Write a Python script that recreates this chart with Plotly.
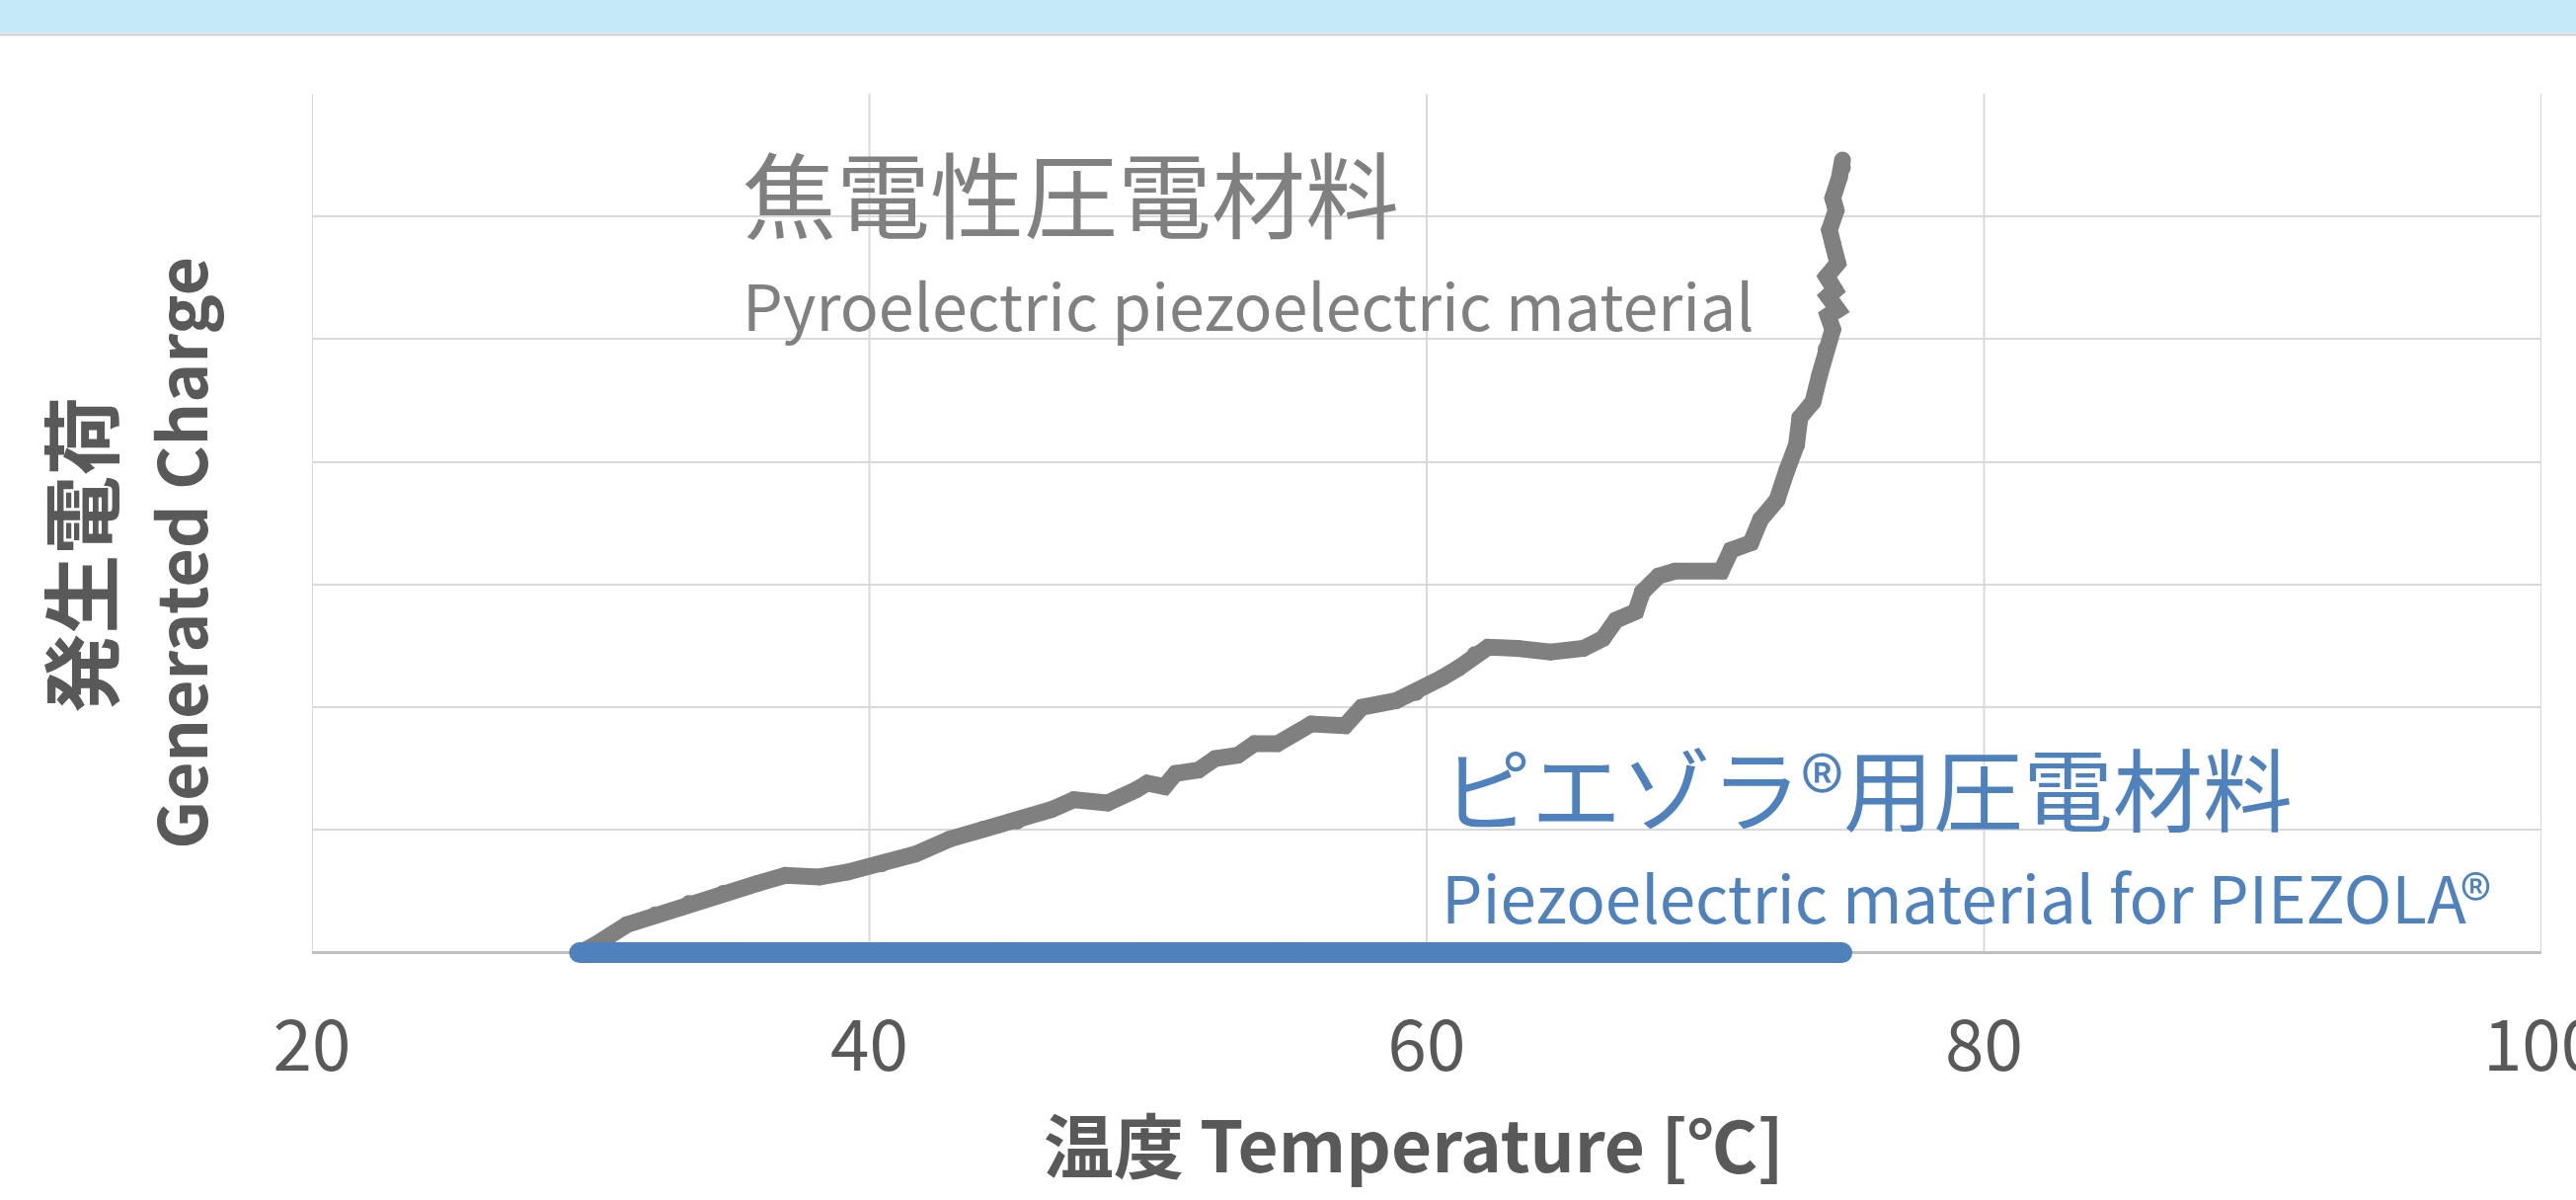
import plotly.graph_objects as go

# ---- data ----
temp_pyro = [29.6, 30.09, 31.30, 32.32, 33.53, 34.76, 35.97, 36.99, 38.21, 39.22,
             40.44, 41.66, 42.87, 44.09, 45.30, 46.53, 47.34, 48.55, 49.57, 49.97,
             50.59, 50.99, 51.81, 52.41, 53.22, 53.82, 54.64, 55.86, 57.07, 57.67,
             58.91, 59.61, 60.55, 61.14, 61.73, 62.20, 63.26, 64.44, 65.62, 66.32,
             66.79, 67.50, 67.74, 68.32, 68.91, 70.57, 70.92, 71.63, 71.98, 72.57,
             72.92, 73.27, 73.39, 73.86, 74.10, 74.33, 74.57, 74.40, 74.75, 74.40,
             74.65, 74.35, 74.75, 74.57, 74.45, 74.69, 74.57, 74.81, 74.92, 74.92]
charge_pyro = [0.0, 0.054, 0.228, 0.308, 0.402, 0.483, 0.563, 0.630, 0.617, 0.657,
               0.724, 0.804, 0.925, 1.006, 1.072, 1.166, 1.247, 1.220, 1.327, 1.381,
               1.354, 1.461, 1.488, 1.582, 1.609, 1.703, 1.703, 1.864, 1.850, 2.0,
               2.054, 2.12, 2.24, 2.32, 2.43, 2.49, 2.48, 2.45, 2.48, 2.56,
               2.71, 2.78, 2.94, 3.07, 3.11, 3.11, 3.28, 3.34, 3.53, 3.69,
               3.93, 4.14, 4.36, 4.49, 4.71, 4.92, 5.08, 5.19, 5.24, 5.35,
               5.40, 5.51, 5.62, 5.78, 5.89, 6.05, 6.15, 6.32, 6.40, 6.46]

temp_piezola = [29.6, 35.0, 40.0, 45.0, 50.0, 55.0, 60.0, 65.0, 70.0, 74.9]
charge_piezola = [0, 0, 0, 0, 0, 0, 0, 0, 0, 0]

x_ticks = [20, 40, 60, 80, 100]
y_max = 7

GRAY = "#808080"
BLUE = "#4F81BD"
TXT = "#595959"
GRID = "#D9D9D9"
FONT = "Noto Sans CJK JP"

W, H = 2609, 1215
Y0_PX, Y7_PX = 965, 95          # pixel rows of charge 0 and 7
UNIT = (Y0_PX - Y7_PX) / y_max
Y_LOW = -0.1
ML, MR, MT = 316, 35, Y7_PX
MB = H - (Y0_PX - Y_LOW * UNIT)
PW, PH = W - ML - MR, H - MT - MB

def px(xp):
    return (xp - ML) / PW

def py(yp):
    return (H - MB - yp) / PH

fig = go.Figure()
fig.add_trace(go.Scatter(
    x=temp_pyro, y=charge_pyro, mode="lines+markers",
    line=dict(color=GRAY, width=17),
    marker=dict(color=GRAY, size=17),
    cliponaxis=False, showlegend=False, hoverinfo="skip"))
fig.add_trace(go.Scatter(
    x=temp_piezola, y=charge_piezola, mode="lines+markers",
    line=dict(color=BLUE, width=21),
    marker=dict(color=BLUE, size=21),
    cliponaxis=False, showlegend=False, hoverinfo="skip"))

shapes = [
    dict(type="rect", xref="paper", yref="paper",
         x0=px(0), x1=px(W), y0=py(33), y1=py(0),
         fillcolor="#C6E9FA", line=dict(width=0), layer="below"),
    dict(type="line", xref="paper", yref="paper",
         x0=px(0), x1=px(W), y0=py(35), y1=py(35),
         line=dict(color="#D6D6D6", width=3)),
]
for xv in x_ticks:
    shapes.append(dict(type="line", xref="x", yref="y", x0=xv, x1=xv, y0=0, y1=y_max,
                       line=dict(color=GRID, width=2), layer="below"))

fig.update_layout(
    width=W, height=H,
    margin=dict(l=ML, r=MR, t=MT, b=MB, autoexpand=False),
    paper_bgcolor="white", plot_bgcolor="rgba(0,0,0,0)",
    font=dict(family=FONT, color=TXT),
    xaxis=dict(range=[20, 100], tickvals=x_ticks, ticktext=[str(v) for v in x_ticks],
               showgrid=False, zeroline=False, showline=False,
               ticks="outside", ticklen=21, tickcolor="rgba(0,0,0,0)",
               ticklabeloverflow="allow",
               tickfont=dict(family=FONT, size=71, color=TXT)),
    yaxis=dict(range=[Y_LOW, y_max], tick0=0, dtick=1, showticklabels=False,
               showgrid=True, gridcolor=GRID, gridwidth=2,
               zeroline=True, zerolinecolor="#BFBFBF", zerolinewidth=3,
               showline=False, ticks=""),
    shapes=shapes,
    annotations=[
        dict(text="焦電性圧電材料", xref="paper", yref="paper",
             x=px(750), y=py(194), xanchor="left", yanchor="middle", showarrow=False,
             font=dict(family=FONT, size=95, color=GRAY)),
        dict(text="Pyroelectric piezoelectric material", xref="paper", yref="paper",
             x=px(750), y=py(307), xanchor="left", yanchor="middle", showarrow=False,
             font=dict(family=FONT, size=64.5, color=GRAY)),
        dict(text="ピエゾラ®用圧電材料", xref="paper", yref="paper",
             x=px(1458), y=py(795), xanchor="left", yanchor="middle", showarrow=False,
             font=dict(family=FONT, size=91, color=BLUE)),
        dict(text="Piezoelectric material for PIEZOLA®", xref="paper", yref="paper",
             x=px(1458), y=py(907), xanchor="left", yanchor="middle", showarrow=False,
             font=dict(family=FONT, size=65.5, color=BLUE)),
        dict(text="<b>温度 Temperature [℃]</b>", xref="paper", yref="paper",
             x=px(1432), y=py(1157), xanchor="center", yanchor="middle", showarrow=False,
             font=dict(family=FONT, size=71, color=TXT)),
        dict(text="<b>発生電荷</b>", xref="paper", yref="paper",
             x=px(78), y=py(562), xanchor="center", yanchor="middle", showarrow=False,
             textangle=-90, font=dict(family=FONT, size=80, color=TXT)),
        dict(text="<b>Generated Charge</b>", xref="paper", yref="paper",
             x=px(181), y=py(560), xanchor="center", yanchor="middle", showarrow=False,
             textangle=-90, font=dict(family=FONT, size=68, color=TXT)),
    ],
)

fig.write_html("out.html", config={"displayModeBar": False},
               post_script="document.body.style.margin='0';document.body.style.overflow='hidden';")
